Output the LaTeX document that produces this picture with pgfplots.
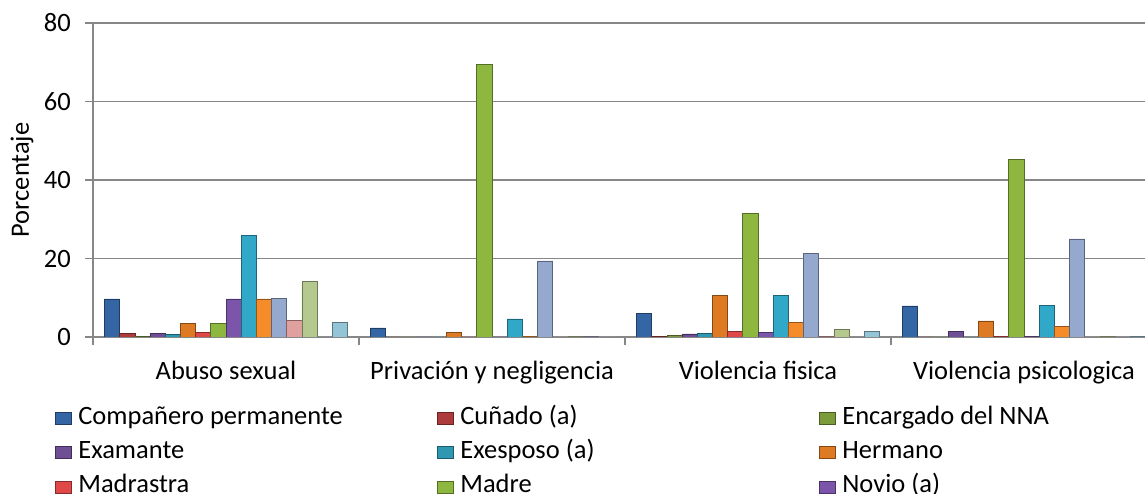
\documentclass[border=0pt]{standalone}
\usepackage{fontspec}
\setmainfont{Carlito}
\usepackage{pgfplots}
\pgfplotsset{compat=1.18}
\definecolor{gridgray}{HTML}{878787}
\definecolor{c1}{HTML}{3465A4}
\definecolor{c2}{HTML}{AE3B3B}
\definecolor{c3}{HTML}{7C9C3C}
\definecolor{c4}{HTML}{6E4E94}
\definecolor{c5}{HTML}{2E97B1}
\definecolor{c6}{HTML}{DE7A24}
\definecolor{c7}{HTML}{E04848}
\definecolor{c8}{HTML}{8DB73E}
\definecolor{c9}{HTML}{7B55A9}
\definecolor{c10}{HTML}{31A8C8}
\definecolor{c11}{HTML}{F68B2A}
\definecolor{c12}{HTML}{95A9CF}
\definecolor{c13}{HTML}{E0A0A0}
\definecolor{c14}{HTML}{B5C98E}
\definecolor{c15}{HTML}{B3A2C7}
\definecolor{c16}{HTML}{93C5D6}
\newcommand\LE[1]{\makebox[211pt][l]{#1}}
\newcommand\fs{\fontsize{15.9}{17.4}\selectfont}
\begin{document}
\begin{tikzpicture}
\begin{axis}[
  at={(0,0)}, anchor=south west, scale only axis,
  width=638.4pt, height=188.4pt,
  xmin=-0.5, xmax=3.5, ymin=0, ymax=80,
  ybar=0pt, bar width=0.0571,
  every axis plot post/.append style={legend image code/.code={\draw[##1] (0pt,-4.8pt) rectangle (9.4pt,2.4pt);}},
  xtick={-0.5,0.5,1.5,2.5,3.5},
  xticklabels={Abuso sexual, Privación y negligencia, Violencia fisica, Violencia psicologica},
  x tick label as interval,
  ytick={0,20,40,60,80},
  ymajorgrids, grid style={line width=1.1pt, color=gridgray},
  axis lines=left, axis line style={-, line width=1.1pt, color=gridgray},
  tick align=outside, major tick length=4.8pt,
  tick style={line width=1.1pt, color=gridgray},
  /pgf/number format/assume math mode=true,
  tick label style={font=\fs, text=black},
  yticklabel style={xshift=-5pt},
  xticklabel style={yshift=-6pt},
  ylabel={Porcentaje},
  ylabel style={at={(axis description cs:-0.0667,0.5)}, anchor=center, font=\fs},
  legend style={at={(-0.0357,-0.1978)}, anchor=north west, draw=none, fill=none,
    inner sep=0pt, outer sep=0pt, column sep=4.2pt, row sep=0pt,
    font=\fs, nodes={inner sep=0pt, text height=15.1pt, text depth=5.5pt}},
  legend columns=3,
  legend cell align=left,
]
\addplot[fill=c1, draw=c1!60!black, line width=0.4pt] coordinates {(0,9.7) (1,2.3) (2,6.0) (3,7.9)};
\addplot[fill=c2, draw=c2!60!black, line width=0.4pt] coordinates {(0,0.9) (1,0) (2,0.1) (3,0)};
\addplot[fill=c3, draw=c3!60!black, line width=0.4pt] coordinates {(0,0.1) (1,0) (2,0.3) (3,0)};
\addplot[fill=c4, draw=c4!60!black, line width=0.4pt] coordinates {(0,0.9) (1,0) (2,0.8) (3,1.5)};
\addplot[fill=c5, draw=c5!60!black, line width=0.4pt] coordinates {(0,0.6) (1,0) (2,1.0) (3,0)};
\addplot[fill=c6, draw=c6!60!black, line width=0.4pt] coordinates {(0,3.5) (1,1.2) (2,10.7) (3,4.1)};
\addplot[fill=c7, draw=c7!60!black, line width=0.4pt] coordinates {(0,1.1) (1,0) (2,1.5) (3,0.2)};
\addplot[fill=c8, draw=c8!60!black, line width=0.4pt] coordinates {(0,3.5) (1,69.4) (2,31.4) (3,45.2)};
\addplot[fill=c9, draw=c9!60!black, line width=0.4pt] coordinates {(0,9.7) (1,0) (2,1.2) (3,0.2)};
\addplot[fill=c10, draw=c10!60!black, line width=0.4pt] coordinates {(0,25.8) (1,4.6) (2,10.7) (3,8.1)};
\addplot[fill=c11, draw=c11!60!black, line width=0.4pt] coordinates {(0,9.7) (1,0.2) (2,3.7) (3,2.7)};
\addplot[fill=c12, draw=c12!60!black, line width=0.4pt] coordinates {(0,9.9) (1,19.4) (2,21.4) (3,25.0)};
\addplot[fill=c13, draw=c13!60!black, line width=0.4pt] coordinates {(0,4.3) (1,0) (2,0.2) (3,0)};
\addplot[fill=c14, draw=c14!60!black, line width=0.4pt] coordinates {(0,14.1) (1,0.1) (2,1.9) (3,0.2)};
\addplot[fill=c15, draw=c15!60!black, line width=0.4pt] coordinates {(0,0) (1,0.1) (2,0) (3,0)};
\addplot[fill=c16, draw=c16!60!black, line width=0.4pt] coordinates {(0,3.7) (1,0) (2,1.4) (3,0.2)};
\legend{\LE{Compañero permanente},\LE{Cuñado (a)},\LE{Encargado del NNA},\LE{Examante},\LE{Exesposo (a)},\LE{Hermano},\LE{Madrastra},\LE{Madre},\LE{Novio (a)}}
\end{axis}
\pgfresetboundingbox
\useasboundingbox (-55.8pt,-94.2pt) rectangle (631.2pt,202.2pt);
\end{tikzpicture}
\end{document}
